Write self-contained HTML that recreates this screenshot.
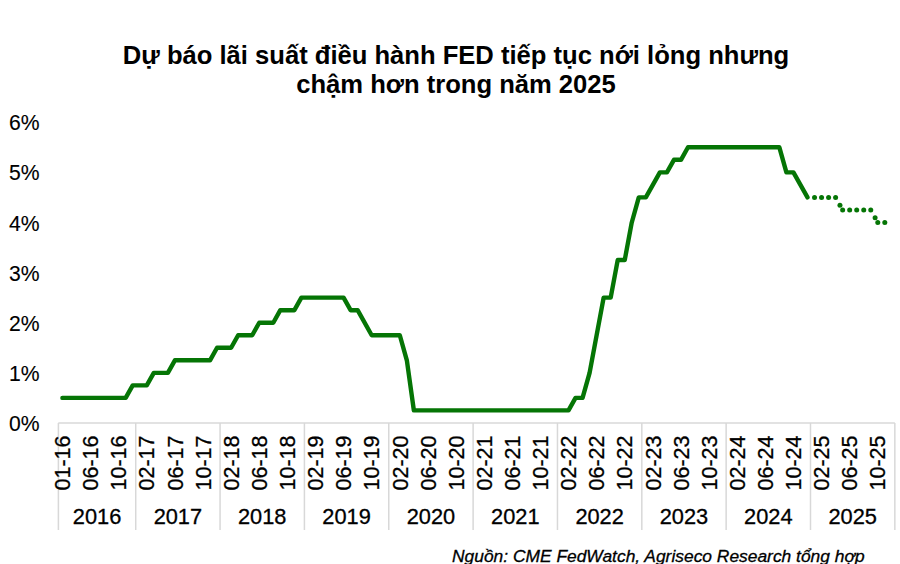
<!DOCTYPE html>
<html><head><meta charset="utf-8"><style>
html,body{margin:0;padding:0;background:#fff;}
body{width:900px;height:564px;overflow:hidden;}
svg{display:block;font-family:"Liberation Sans",sans-serif;}
text{stroke:#000;stroke-width:0.3px;}
.ttl text{stroke:none;}
.yl text{stroke-width:0.12px;}
</style></head><body>
<svg width="900" height="564" viewBox="0 0 900 564">
<rect width="900" height="564" fill="#fff"/>
<g font-weight="bold" font-size="25.6" fill="#000" text-anchor="middle" class="ttl">
<text transform="translate(456,63.6) scale(1,1.03)">Dự báo lãi suất điều hành FED tiếp tục nới lỏng nhưng</text>
<text transform="translate(456,93.2) scale(1,1.03)">chậm hơn trong năm 2025</text>
</g>
<g fill="#000" font-size="22.3" class="yl"><text transform="translate(39.6,431.05) scale(0.95,1)" text-anchor="end">0%</text><text transform="translate(39.6,380.93) scale(0.95,1)" text-anchor="end">1%</text><text transform="translate(39.6,330.81) scale(0.95,1)" text-anchor="end">2%</text><text transform="translate(39.6,280.69) scale(0.95,1)" text-anchor="end">3%</text><text transform="translate(39.6,230.57) scale(0.95,1)" text-anchor="end">4%</text><text transform="translate(39.6,180.45) scale(0.95,1)" text-anchor="end">5%</text><text transform="translate(39.6,130.33) scale(0.95,1)" text-anchor="end">6%</text></g>
<g stroke="#d8d8d8" stroke-width="1.5" fill="none">
<line x1="58.4" y1="422.95" x2="894.85" y2="422.95"/>
<line x1="58.40" y1="422.95" x2="58.40" y2="530" /><line x1="135.72" y1="422.95" x2="135.72" y2="530" /><line x1="220.07" y1="422.95" x2="220.07" y2="530" /><line x1="304.41" y1="422.95" x2="304.41" y2="530" /><line x1="388.76" y1="422.95" x2="388.76" y2="530" /><line x1="473.11" y1="422.95" x2="473.11" y2="530" /><line x1="557.46" y1="422.95" x2="557.46" y2="530" /><line x1="641.81" y1="422.95" x2="641.81" y2="530" /><line x1="726.15" y1="422.95" x2="726.15" y2="530" /><line x1="810.50" y1="422.95" x2="810.50" y2="530" /><line x1="894.85" y1="422.95" x2="894.85" y2="530" />
</g>
<g fill="#000" font-size="21.5"><text transform="translate(70.11,435.5) rotate(-90)" text-anchor="end">01-16</text><text transform="translate(98.23,435.5) rotate(-90)" text-anchor="end">06-16</text><text transform="translate(126.35,435.5) rotate(-90)" text-anchor="end">10-16</text><text transform="translate(154.46,435.5) rotate(-90)" text-anchor="end">02-17</text><text transform="translate(182.58,435.5) rotate(-90)" text-anchor="end">06-17</text><text transform="translate(210.69,435.5) rotate(-90)" text-anchor="end">10-17</text><text transform="translate(238.81,435.5) rotate(-90)" text-anchor="end">02-18</text><text transform="translate(266.93,435.5) rotate(-90)" text-anchor="end">06-18</text><text transform="translate(295.04,435.5) rotate(-90)" text-anchor="end">10-18</text><text transform="translate(323.16,435.5) rotate(-90)" text-anchor="end">02-19</text><text transform="translate(351.27,435.5) rotate(-90)" text-anchor="end">06-19</text><text transform="translate(379.39,435.5) rotate(-90)" text-anchor="end">10-19</text><text transform="translate(407.51,435.5) rotate(-90)" text-anchor="end">02-20</text><text transform="translate(435.62,435.5) rotate(-90)" text-anchor="end">06-20</text><text transform="translate(463.74,435.5) rotate(-90)" text-anchor="end">10-20</text><text transform="translate(491.85,435.5) rotate(-90)" text-anchor="end">02-21</text><text transform="translate(519.97,435.5) rotate(-90)" text-anchor="end">06-21</text><text transform="translate(548.09,435.5) rotate(-90)" text-anchor="end">10-21</text><text transform="translate(576.20,435.5) rotate(-90)" text-anchor="end">02-22</text><text transform="translate(604.32,435.5) rotate(-90)" text-anchor="end">06-22</text><text transform="translate(632.43,435.5) rotate(-90)" text-anchor="end">10-22</text><text transform="translate(660.55,435.5) rotate(-90)" text-anchor="end">02-23</text><text transform="translate(688.67,435.5) rotate(-90)" text-anchor="end">06-23</text><text transform="translate(716.78,435.5) rotate(-90)" text-anchor="end">10-23</text><text transform="translate(744.90,435.5) rotate(-90)" text-anchor="end">02-24</text><text transform="translate(773.01,435.5) rotate(-90)" text-anchor="end">06-24</text><text transform="translate(801.13,435.5) rotate(-90)" text-anchor="end">10-24</text><text transform="translate(829.25,435.5) rotate(-90)" text-anchor="end">02-25</text><text transform="translate(857.36,435.5) rotate(-90)" text-anchor="end">06-25</text><text transform="translate(885.48,435.5) rotate(-90)" text-anchor="end">10-25</text></g>
<g fill="#000" font-size="21.8"><text x="97.06" y="524.1" text-anchor="middle">2016</text><text x="177.89" y="524.1" text-anchor="middle">2017</text><text x="262.24" y="524.1" text-anchor="middle">2018</text><text x="346.59" y="524.1" text-anchor="middle">2019</text><text x="430.94" y="524.1" text-anchor="middle">2020</text><text x="515.28" y="524.1" text-anchor="middle">2021</text><text x="599.63" y="524.1" text-anchor="middle">2022</text><text x="683.98" y="524.1" text-anchor="middle">2023</text><text x="768.33" y="524.1" text-anchor="middle">2024</text><text x="852.68" y="524.1" text-anchor="middle">2025</text></g>
<polyline points="62.41,397.89 125.68,397.89 132.70,385.36 146.76,385.36 153.79,372.83 167.85,372.83 174.88,360.30 210.02,360.30 217.05,347.77 231.11,347.77 238.14,335.24 252.20,335.24 259.23,322.71 273.28,322.71 280.31,310.18 294.37,310.18 301.40,297.65 343.57,297.65 350.60,310.18 357.63,310.18 371.69,335.24 399.81,335.24 406.84,360.30 413.86,410.42 568.50,410.42 575.53,397.89 582.56,397.89 589.59,372.83 603.65,297.65 610.68,297.65 617.71,260.06 624.73,260.06 631.76,222.47 638.79,197.41 645.82,197.41 659.88,172.35 666.91,172.35 673.94,159.82 680.97,159.82 688.00,147.29 779.37,147.29 786.40,172.35 793.43,172.35 807.49,197.41" fill="none" stroke="#057505" stroke-width="4.4" stroke-linejoin="round" stroke-linecap="round"/>
<g fill="#057505"><circle cx="814.52" cy="197.41" r="2.5"/><circle cx="821.55" cy="197.41" r="2.5"/><circle cx="828.58" cy="197.41" r="2.5"/><circle cx="835.60" cy="197.41" r="2.5"/><circle cx="839.96" cy="205.18" r="2.5"/><circle cx="842.63" cy="209.94" r="2.5"/><circle cx="849.66" cy="209.94" r="2.5"/><circle cx="856.69" cy="209.94" r="2.5"/><circle cx="863.72" cy="209.94" r="2.5"/><circle cx="870.75" cy="209.94" r="2.5"/><circle cx="875.11" cy="217.71" r="2.5"/><circle cx="877.78" cy="222.47" r="2.5"/><circle cx="884.81" cy="222.47" r="2.5"/></g>
<text x="452" y="561.6" font-style="italic" font-size="17.4" fill="#000">Nguồn: CME FedWatch, Agriseco Research tổng hợp</text>
</svg>
</body></html>
